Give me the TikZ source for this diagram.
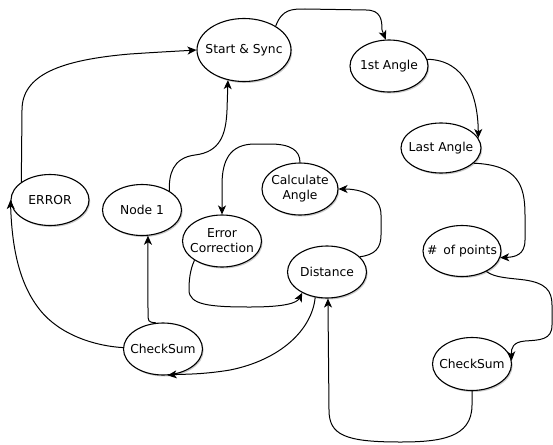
\documentclass[tikz,border=0pt]{standalone}
\usepackage{fontspec}
\setmainfont{DejaVu Sans}
\usetikzlibrary{shapes.geometric,arrows.meta,shadows}
\begin{document}
\begin{tikzpicture}[x=1pt,y=-1pt,
  st/.style={ellipse,draw,line width=1.1pt,fill=white,inner xsep=-20pt,inner ysep=-10pt,align=center,
    font=\fontsize{12.3}{15}\selectfont,
    drop shadow={shadow xshift=1.2pt,shadow yshift=-1.5pt,fill=black!35,opacity=0.6}},
  conn/.style={draw,line width=1pt,-{Stealth[length=9pt,width=8pt,inset=2.5pt]}}]
\useasboundingbox (0,0) rectangle (553,444);
\node[st,minimum width=94pt,minimum height=63pt] (ss) at (244,50) {Start \& Sync};
\node[st,minimum width=78pt,minimum height=52pt] (a1) at (389,66) {1st Angle};
\node[st,minimum width=80pt,minimum height=50pt] (la) at (441,148) {Last Angle};
\node[st,minimum width=76pt,minimum height=52pt] (ca) at (300,189) {Calculate\\Angle};
\node[st,minimum width=79pt,minimum height=52pt] (ec) at (222,241) {Error\\Correction};
\node[st,minimum width=79pt,minimum height=51pt] (n1) at (142,210) {Node 1};
\node[st,minimum width=78pt,minimum height=51pt] (er) at (50,200) {ERROR};
\node[st,minimum width=79pt,minimum height=52pt] (di) at (327,272) {Distance};
\node[st,minimum width=78pt,minimum height=51pt] (np) at (462,251) {\#\, of points};
\node[st,minimum width=79pt,minimum height=53pt] (cs2) at (472,364) {CheckSum};
\node[st,minimum width=79pt,minimum height=52pt] (cs1) at (163,349) {CheckSum};

% Start & Sync -> 1st Angle
\path[conn] (ss.37) .. controls (282,9) and (292,9) .. (305,9) -- (366,10)
  .. controls (381,10) and (382,20) .. (382,30) -- (a1.97);
% 1st Angle -> Last Angle
\path[conn] (a1.10) .. controls (465,60) and (478,95) .. (la.15);
% Last Angle -> # of points
\path[conn] (la.-25) .. controls (518,165) and (525,185) .. (525,215) -- (525,240)
  .. controls (525,255) and (515,257) .. (np.-10);
% # of points -> CheckSum
\path[conn] (np.-40) .. controls (495,278) and (510,278) .. (525,280)
  .. controls (545,283) and (552,290) .. (552,305) -- (552,325)
  .. controls (552,340) and (540,340) .. (525,341)
  .. controls (513,342) and (511,348) .. (cs2.5);
% CheckSum -> Distance
\path[conn] (cs2.south) -- (472,405) .. controls (472,438) and (440,442) .. (400,442)
  .. controls (345,442) and (329,435) .. (329,410) -- (di.-88);
% Distance -> Calculate Angle
\path[conn] (di.25) .. controls (375,255) and (381,248) .. (381,235) -- (381,215)
  .. controls (381,195) and (360,189) .. (ca.0);
% Calculate Angle -> Error Correction
\path[conn] (ca.north) .. controls (300,150) and (290,144) .. (270,144) -- (255,144)
  .. controls (230,144) and (222,160) .. (222,185) -- (ec.north);
% Error Correction -> Distance
\path[conn] (ec.-145) .. controls (190,270) and (189,280) .. (189,290)
  .. controls (189,305) and (210,307) .. (250,307)
  .. controls (285,307) and (297,303) .. (di.-140);
% Distance -> CheckSum (left)
\path[conn] (di.-115) .. controls (312,330) and (280,360) .. (230,370)
  .. controls (200,375) and (180,374) .. (cs1.-80);
% CheckSum -> Node 1
\path[conn] (cs1.105) .. controls (148,322) .. (148,312) -- (n1.-77);
% CheckSum -> ERROR
\path[conn] (cs1.178) .. controls (95,346) and (60,335) .. (40,310)
  .. controls (20,285) and (12,250) .. (er.west);
% ERROR -> Start & Sync
\path[conn] (er.148) -- (22,110) .. controls (22,75) and (60,60) .. (130,54)
  .. controls (160,52) and (180,51) .. (ss.west);
% Node 1 -> Start & Sync
\path[conn] (n1.35) .. controls (169,175) and (172,158) .. (195,155)
  .. controls (220,152) and (226,135) .. (227,110) -- (ss.-118);
\end{tikzpicture}
\end{document}
